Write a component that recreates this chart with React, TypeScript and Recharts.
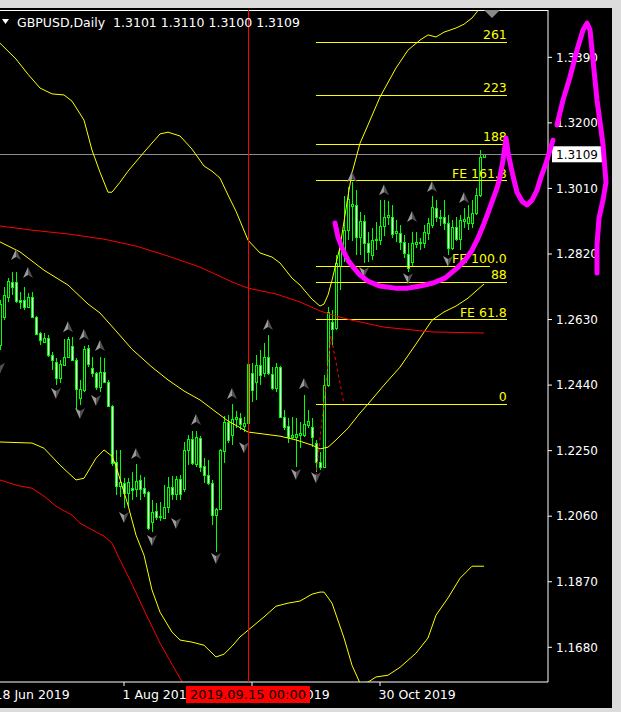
import React from 'react';
import { Bar, ComposedChart, Line, ReferenceLine, Scatter, XAxis, YAxis } from 'recharts';

// daily candles, one per bar index (0 = 19 Jun 2019)
const opens = [
  1.2556, 1.2637, 1.2695, 1.2738, 1.2738, 1.2686, 1.2686, 1.2666, 1.2695, 1.2637,
  1.2590, 1.2564, 1.2576, 1.2528, 1.2507, 1.2461, 1.2498, 1.2522, 1.2553, 1.2513,
  1.2403, 1.2426, 1.2548, 1.2490, 1.2475, 1.2434, 1.2478, 1.2449, 1.2379, 1.2217,
  1.2147, 1.2156, 1.2127, 1.2142, 1.2139, 1.2165, 1.2142, 1.2130, 1.2043, 1.2075,
  1.2058, 1.2055, 1.2086, 1.2144, 1.2124, 1.2168, 1.2139, 1.2252, 1.2284, 1.2211,
  1.2286, 1.2205, 1.2179, 1.2156, 1.2063, 1.2081, 1.2249, 1.2333, 1.2295, 1.2341,
  1.2344, 1.2321, 1.2330, 1.2475, 1.2449, 1.2498, 1.2475, 1.2522, 1.2472, 1.2431,
  1.2493, 1.2347, 1.2321, 1.2289, 1.2289, 1.2295, 1.2295, 1.2324, 1.2318, 1.2272,
  1.2217, 1.2202, 1.2440, 1.2623, 1.2605, 1.2785, 1.2831, 1.2889, 1.2959, 1.2962,
  1.2869, 1.2915, 1.2852, 1.2817, 1.2860, 1.2860, 1.2901, 1.2927, 1.2927, 1.2881,
  1.2881, 1.2854, 1.2820, 1.2797, 1.2849, 1.2852, 1.2852, 1.2881, 1.2904, 1.2953,
  1.2927, 1.2927, 1.2910, 1.2837, 1.2898, 1.2863, 1.2915, 1.2910, 1.2910, 1.2939,
  1.2991, 1.3101,
];
const highs = [
  1.2686, 1.2724, 1.2750, 1.2767, 1.2767, 1.2709, 1.2724, 1.2706, 1.2709, 1.2640,
  1.2593, 1.2590, 1.2585, 1.2536, 1.2519, 1.2513, 1.2573, 1.2579, 1.2579, 1.2519,
  1.2455, 1.2553, 1.2556, 1.2522, 1.2478, 1.2522, 1.2519, 1.2455, 1.2382, 1.2252,
  1.2252, 1.2171, 1.2171, 1.2188, 1.2211, 1.2179, 1.2173, 1.2133, 1.2107, 1.2098,
  1.2101, 1.2150, 1.2173, 1.2176, 1.2176, 1.2179, 1.2275, 1.2295, 1.2307, 1.2307,
  1.2292, 1.2228, 1.2223, 1.2165, 1.2084, 1.2255, 1.2350, 1.2353, 1.2385, 1.2365,
  1.2359, 1.2347, 1.2507, 1.2504, 1.2528, 1.2542, 1.2562, 1.2585, 1.2493, 1.2504,
  1.2496, 1.2368, 1.2344, 1.2347, 1.2344, 1.2333, 1.2411, 1.2368, 1.2344, 1.2281,
  1.2246, 1.2469, 1.2666, 1.2657, 1.2817, 1.2866, 1.2988, 1.3014, 1.3030, 1.3005,
  1.2941, 1.2933, 1.2883, 1.2895, 1.2912, 1.2976, 1.2976, 1.2973, 1.2962, 1.2918,
  1.2904, 1.2875, 1.2852, 1.2883, 1.2883, 1.2866, 1.2904, 1.2924, 1.2988, 1.2976,
  1.2947, 1.2976, 1.2933, 1.2918, 1.2927, 1.2933, 1.2953, 1.2962, 1.2976, 1.3011,
  1.3121, 1.3110,
];
const lows = [
  1.2542, 1.2628, 1.2680, 1.2700, 1.2677, 1.2660, 1.2657, 1.2663, 1.2634, 1.2585,
  1.2556, 1.2561, 1.2522, 1.2484, 1.2440, 1.2446, 1.2495, 1.2519, 1.2510, 1.2368,
  1.2383, 1.2420, 1.2493, 1.2464, 1.2426, 1.2420, 1.2446, 1.2376, 1.2205, 1.2121,
  1.2115, 1.2084, 1.2090, 1.2107, 1.2115, 1.2107, 1.2115, 1.2020, 1.2014, 1.2049,
  1.2046, 1.2052, 1.2069, 1.2107, 1.2107, 1.2107, 1.2130, 1.2208, 1.2208, 1.2202,
  1.2188, 1.2156, 1.2150, 1.2034, 1.1956, 1.2078, 1.2214, 1.2272, 1.2266, 1.2315,
  1.2310, 1.2304, 1.2324, 1.2391, 1.2397, 1.2440, 1.2464, 1.2469, 1.2426, 1.2420,
  1.2344, 1.2310, 1.2272, 1.2284, 1.2202, 1.2257, 1.2289, 1.2315, 1.2260, 1.2188,
  1.2194, 1.2199, 1.2434, 1.2556, 1.2599, 1.2715, 1.2797, 1.2860, 1.2860, 1.2817,
  1.2817, 1.2794, 1.2797, 1.2802, 1.2831, 1.2846, 1.2872, 1.2904, 1.2866, 1.2854,
  1.2831, 1.2808, 1.2768, 1.2785, 1.2837, 1.2831, 1.2837, 1.2860, 1.2895, 1.2912,
  1.2901, 1.2889, 1.2817, 1.2831, 1.2857, 1.2831, 1.2895, 1.2889, 1.2895, 1.2933,
  1.2985, 1.3100,
];
const closes = [
  1.2674, 1.2700, 1.2741, 1.2724, 1.2683, 1.2680, 1.2666, 1.2695, 1.2637, 1.2587,
  1.2570, 1.2576, 1.2528, 1.2513, 1.2461, 1.2501, 1.2522, 1.2573, 1.2513, 1.2429,
  1.2429, 1.2545, 1.2501, 1.2475, 1.2434, 1.2478, 1.2449, 1.2379, 1.2214, 1.2147,
  1.2159, 1.2127, 1.2159, 1.2136, 1.2162, 1.2139, 1.2127, 1.2026, 1.2072, 1.2058,
  1.2061, 1.2086, 1.2144, 1.2124, 1.2168, 1.2124, 1.2252, 1.2284, 1.2214, 1.2289,
  1.2202, 1.2179, 1.2156, 1.2063, 1.2081, 1.2252, 1.2333, 1.2281, 1.2341, 1.2347,
  1.2327, 1.2330, 1.2501, 1.2426, 1.2498, 1.2469, 1.2522, 1.2475, 1.2431, 1.2493,
  1.2347, 1.2318, 1.2289, 1.2295, 1.2298, 1.2301, 1.2327, 1.2336, 1.2289, 1.2217,
  1.2202, 1.2440, 1.2652, 1.2602, 1.2794, 1.2837, 1.2889, 1.2979, 1.2965, 1.2869,
  1.2915, 1.2852, 1.2826, 1.2860, 1.2863, 1.2901, 1.2927, 1.2933, 1.2878, 1.2886,
  1.2854, 1.2823, 1.2779, 1.2852, 1.2854, 1.2854, 1.2883, 1.2910, 1.2956, 1.2927,
  1.2924, 1.2910, 1.2837, 1.2898, 1.2863, 1.2918, 1.2921, 1.2927, 1.2939, 1.2991,
  1.3101, 1.3109,
];

// indicator lines: [bar index, price]
const upperBand: [number, number][] = [
  [0, 1.3431], [4, 1.3385], [7, 1.3341], [10, 1.3301], [13, 1.3284], [16, 1.3281], [18, 1.3263],
  [21, 1.3208], [23, 1.3121], [25, 1.3057], [27, 1.2999], [28, 1.2999], [30, 1.3028], [32, 1.306],
  [36, 1.3115], [40, 1.3168], [42, 1.3173], [45, 1.3162], [48, 1.3124], [51, 1.3075], [53, 1.306],
  [55, 1.304], [57, 1.2991], [59, 1.2944], [62, 1.286], [65, 1.2823], [68, 1.2811], [70, 1.2794],
  [73, 1.275], [75, 1.273], [78, 1.2689], [80, 1.2669], [81, 1.2675], [82, 1.2701], [83, 1.2744],
  [85, 1.284], [87, 1.2988], [88, 1.3055], [90, 1.3141], [92, 1.3194], [95, 1.3275], [99, 1.3359],
  [102, 1.3411], [105, 1.344], [107, 1.3455], [109, 1.3449], [111, 1.3463], [114, 1.3475],
  [116, 1.3486], [118, 1.3504], [120, 1.3533], [121, 1.355],
];
const middleBand: [number, number][] = [
  [0, 1.2855], [5, 1.2826], [11, 1.2773], [17, 1.273], [22, 1.2675], [25, 1.2649], [29, 1.2597],
  [33, 1.2544], [38, 1.2492], [42, 1.2455], [46, 1.2423], [50, 1.2397], [54, 1.2362], [57, 1.2336],
  [62, 1.2304], [66, 1.2298], [70, 1.2292], [74, 1.2281], [78, 1.2266], [80, 1.2255], [82, 1.226],
  [84, 1.2281], [87, 1.2315], [90, 1.2359], [92, 1.2385], [96, 1.244], [100, 1.2492], [104, 1.2559],
  [108, 1.2628], [111, 1.2652], [114, 1.2669], [117, 1.2692], [121, 1.2733],
];
const lowerBand: [number, number][] = [
  [0, 1.2275], [8, 1.2272], [11, 1.2257], [15, 1.2208], [19, 1.2165], [21, 1.217], [24, 1.2228],
  [26, 1.2252], [28, 1.2234], [29, 1.2205], [32, 1.2092], [34, 1.2005], [36, 1.1947], [38, 1.1846],
  [40, 1.1782], [43, 1.1724], [45, 1.1701], [48, 1.1695], [51, 1.1686], [54, 1.1652], [56, 1.166],
  [58, 1.1683], [60, 1.171], [63, 1.1739], [66, 1.1768], [69, 1.1799], [72, 1.1808], [75, 1.1814],
  [78, 1.1834], [80, 1.184], [81, 1.184], [83, 1.1808], [86, 1.1707], [88, 1.1628], [90, 1.1576],
  [92, 1.1579], [94, 1.1594], [97, 1.1599], [100, 1.1622], [104, 1.1663], [107, 1.1707],
  [109, 1.1773], [112, 1.1823], [115, 1.188], [118, 1.1915], [121, 1.1915],
];
const redMa: [number, number][] = [
  [0, 1.2901], [8, 1.2889], [17, 1.2878], [26, 1.2863], [34, 1.2843], [42, 1.2814], [50, 1.2782],
  [58, 1.2739], [62, 1.2721], [69, 1.2704], [75, 1.2681], [80, 1.2655], [84, 1.264], [88, 1.2628],
  [96, 1.2608], [108, 1.2594], [121, 1.2591],
];
const redLower: [number, number][] = [
  [0, 1.2165], [4, 1.215], [8, 1.2141], [11, 1.2118], [14, 1.2089], [18, 1.2063], [20, 1.204],
  [24, 1.2014], [26, 1.2002], [28, 1.1982], [30, 1.1933], [33, 1.1863], [36, 1.1788], [40, 1.1692],
  [43, 1.1631], [46, 1.157], [47, 1.1544],
];
const zigzag = [
  { i: 79, p: 1.2176 },
  { i: 82.75, p: 1.2582 },
  { i: 86, p: 1.2385 },
];

const fractalsUp: [number, number][] = [
  [4, 1.2817], [7, 1.2765], [17, 1.2608], [21, 1.2585], [25, 1.2553], [34, 1.224], [49, 1.2339],
  [58, 1.2414], [67, 1.2614], [76, 1.2443], [88, 1.3043], [96, 1.3005], [103, 1.2927],
  [108, 1.3014], [116, 1.2982],
];
const fractalsDown: [number, number][] = [
  [0, 1.249], [14, 1.2417], [20, 1.2359], [24, 1.2397], [31, 1.2058], [38, 1.1991], [44, 1.204],
  [54, 1.1939], [61, 1.226], [74, 1.2182], [79, 1.2173], [91, 1.2768], [102, 1.275], [112, 1.28],
];

// fibonacci expansion object
const fibNames = ['261', '223', '188', 'FE 161.8', 'FE 100.0', '88', 'FE 61.8', '0'];
const fibPrices = [1.3433, 1.328, 1.3138, 1.3033, 1.2784, 1.2738, 1.263, 1.2384];
const fibEnds = [126.7, 126.7, 126.7, 126.7, 122.5, 126.7, 126.7, 126.7];
const fibStart = 79;
const fibLabelEnd = 126.7;

// hand drawn magenta marks
const scribbleCup: [number, number][] = [
  [83.75, 1.291], [84.5, 1.2869], [85.75, 1.2831], [87, 1.2802], [88.5, 1.2779], [90, 1.2759],
  [92, 1.2741], [95, 1.2727], [98.75, 1.2721], [102, 1.2721], [105, 1.2727], [108.25, 1.2736],
  [111.25, 1.275], [114.25, 1.2779], [116.25, 1.2802], [118, 1.2831], [119.5, 1.2866],
  [120.75, 1.2901], [122, 1.2939], [123.25, 1.2979], [124.25, 1.3011], [125, 1.3043],
  [125.75, 1.3092], [126.25, 1.3133], [126.5, 1.3156], [127, 1.3115], [127.75, 1.3072],
  [128.5, 1.3034], [129.25, 1.2999], [130.5, 1.2973], [131.75, 1.2962], [133, 1.2976],
  [134.25, 1.3005], [135.25, 1.3043], [136.5, 1.3083], [137.5, 1.3121], [138.25, 1.315],
];
const scribbleSpike: [number, number][] = [
  [139.25, 1.3194], [140.75, 1.3266], [142.5, 1.3333], [144.25, 1.3411], [145.75, 1.3469],
  [146.75, 1.3489], [147.5, 1.3469], [148, 1.3411], [148.5, 1.3353], [149.25, 1.3266],
  [150, 1.3202], [150.75, 1.3136], [151.25, 1.3063], [151.5, 1.3028], [150.75, 1.2976],
  [149.75, 1.2924], [149.25, 1.2846], [149.25, 1.2765],
];

const priceTicks = [1.168, 1.187, 1.206, 1.225, 1.244, 1.263, 1.282, 1.301, 1.32, 1.339];
const dateTicks = [-1, 31, 63, 95];
const dateLabels = ['18 Jun 2019', '1 Aug 2019', '16 Sep 2019', '30 Oct 2019'];

const symbol = 'GBPUSD';
const period = 'Daily';
const markerIndex = 62;
const markerTime = '2019.09.15 00:00';

const Y_MIN = 1.15794;
const Y_MAX = 1.35272;
const GREEN = '#00ff00';
const YELLOW = '#ffff00';
const RED = '#ff0000';
const FONT = 'DejaVu Sans';

const rows: any[] = opens.map((o, i) => ({ i, o, h: highs[i], l: lows[i], c: closes[i] }));
const put = (key: string, pts: [number, number][]) => pts.forEach(([i, v]) => (rows[i][key] = v));
put('ub', upperBand);
put('mb', middleBand);
put('lb', lowerBand);
put('rm', redMa);
put('rl', redLower);

const toPoints = (pts: [number, number][]) => pts.map(([i, p]) => ({ i, p }));
const last = rows[rows.length - 1];

const Candle = (props: any) => {
  const { x, y, width, height, payload } = props;
  if (!payload || height == null) return null;
  const { o, h, l, c } = payload;
  const top = Math.min(y, y + height);
  const span = Math.abs(height);
  const at = (v: number) => top + ((h - v) / (h - l)) * span;
  const cx = Math.round(x + width / 2);
  const bTop = Math.round(at(Math.max(o, c)));
  const bBot = Math.round(at(Math.min(o, c)));
  return (
    <g shapeRendering="crispEdges">
      <rect x={cx} y={Math.round(top)} width={1} height={Math.max(1, Math.round(span))} fill={GREEN} />
      <rect x={cx - 1} y={bTop} width={3} height={bBot - bTop + 1} fill={GREEN} />
      {bBot - bTop > 1 && (
        <rect x={cx} y={bTop + 1} width={1} height={bBot - bTop - 1} fill={c < o ? '#ffffff' : '#000000'} />
      )}
    </g>
  );
};

const ArrowUp = ({ cx, cy }: any) => (
  <g>
    <polygon points={`${cx},${cy - 6} ${cx - 5},${cy + 5} ${cx},${cy + 2}`} fill="#9a9a9a" />
    <polygon points={`${cx},${cy - 6} ${cx},${cy + 2} ${cx + 5},${cy + 5}`} fill="#505050" />
  </g>
);
const ArrowDown = ({ cx, cy }: any) => (
  <g>
    <polygon points={`${cx},${cy + 6} ${cx - 5},${cy - 5} ${cx},${cy - 2}`} fill="#9a9a9a" />
    <polygon points={`${cx},${cy + 6} ${cx},${cy - 2} ${cx + 5},${cy - 5}`} fill="#505050" />
  </g>
);

const DateTick = ({ x, y, payload }: any) => (
  <text x={x - 1.5} y={y + 11} fill="#ffffff" fontSize={12.5} fontFamily={FONT}>
    {dateLabels[dateTicks.indexOf(payload.value)]}
  </text>
);

const PriceTag = ({ viewBox }: any) => {
  const x = viewBox.x + viewBox.width;
  const y = viewBox.y;
  return (
    <g>
      <rect x={x + 4} y={y - 8} width={50} height={16} fill="#ffffff" />
      <text x={x + 8} y={y + 4.5} fill="#000000" fontSize={12} fontFamily={FONT}>
        {last.c.toFixed(4)}
      </text>
    </g>
  );
};

const TimeTag = ({ viewBox }: any) => {
  const x = viewBox.x;
  const y = viewBox.y + viewBox.height;
  return (
    <g>
      <rect x={x - 62} y={y + 4} width={124} height={17} fill={RED} />
      <text x={x} y={y + 17} textAnchor="middle" fill="#000000" fontSize={13} fontFamily={FONT}>
        {markerTime}
      </text>
    </g>
  );
};

const fibLabel = (name: string) => ({ viewBox }: any) => (
  <text x={viewBox.x + viewBox.width} y={viewBox.y - 3} textAnchor="end" fill={YELLOW} fontSize={12.5} fontFamily={FONT}>
    {name}
  </text>
);

export default function App() {
  return (
    <div style={{ position: 'absolute', left: 0, top: 0, width: 621, height: 712, background: '#dcdcdc', overflow: 'hidden' }}>
      <div style={{ position: 'absolute', left: 0, top: 8, width: 612, height: 700, background: '#000' }} />
      <div style={{ position: 'absolute', left: 0, top: 0 }}>
        <ComposedChart width={621} height={712} data={rows} margin={{ top: 10, right: 0, bottom: 0, left: 0 }}>
          <XAxis
            type="number"
            dataKey="i"
            domain={[0, 137]}
            allowDataOverflow
            ticks={dateTicks}
            interval={0}
            height={30}
            stroke="#ffffff"
            tickSize={4}
            tickMargin={2}
            tick={DateTick}
          />
          <YAxis
            orientation="right"
            width={73}
            domain={[Y_MIN, Y_MAX]}
            allowDataOverflow
            ticks={priceTicks}
            interval={0}
            stroke="#ffffff"
            tickSize={4}
            tickMargin={4}
            tick={{ fill: '#ffffff', fontSize: 12, fontFamily: FONT }}
            tickFormatter={(v: number) => v.toFixed(4)}
          />
          <ReferenceLine y={Y_MAX} stroke="#ffffff" ifOverflow="visible" shapeRendering="crispEdges" />
          <ReferenceLine y={last.c} stroke="#8c8c8c" shapeRendering="crispEdges" label={PriceTag} />
          {fibPrices.map((p, k) => (
            <ReferenceLine
              key={`f${k}`}
              segment={[{ x: fibStart, y: p }, { x: fibEnds[k], y: p }]}
              stroke={YELLOW}
              shapeRendering="crispEdges"
            />
          ))}
          {fibPrices.map((p, k) => (
            <ReferenceLine
              key={`fl${k}`}
              segment={[{ x: fibStart, y: p }, { x: fibLabelEnd, y: p }]}
              stroke="none"
              label={fibLabel(fibNames[k])}
            />
          ))}
          <Line data={zigzag} dataKey="p" stroke={RED} strokeDasharray="3 3" dot={false} isAnimationActive={false} />
          <Bar dataKey={(d: any) => [d.l, d.h]} barSize={3} shape={Candle} isAnimationActive={false} />
          <Line dataKey="ub" stroke={YELLOW} dot={false} connectNulls type="linear" isAnimationActive={false} />
          <Line dataKey="mb" stroke={YELLOW} dot={false} connectNulls type="linear" isAnimationActive={false} />
          <Line dataKey="lb" stroke={YELLOW} dot={false} connectNulls type="linear" isAnimationActive={false} />
          <Line dataKey="rm" stroke={RED} dot={false} connectNulls type="linear" isAnimationActive={false} />
          <Line dataKey="rl" stroke={RED} dot={false} connectNulls type="linear" isAnimationActive={false} />
          <Scatter data={toPoints(fractalsUp)} dataKey="p" shape={ArrowUp} isAnimationActive={false} />
          <Scatter data={toPoints(fractalsDown)} dataKey="p" shape={ArrowDown} isAnimationActive={false} />
        </ComposedChart>
      </div>
      <div style={{ position: 'absolute', left: 0, top: 0 }}>
        <ComposedChart width={621} height={712} margin={{ top: 10, right: 0, bottom: 30, left: 0 }}>
          <XAxis type="number" dataKey="i" domain={[0, 155.25]} allowDataOverflow hide />
          <YAxis domain={[Y_MIN, Y_MAX]} allowDataOverflow hide />
          <ReferenceLine x={markerIndex} stroke={RED} shapeRendering="crispEdges" label={TimeTag} />
          <Line data={toPoints(scribbleCup)} dataKey="p" stroke="#ff00ff" strokeWidth={5} strokeLinecap="round" strokeLinejoin="round" dot={false} type="linear" isAnimationActive={false} />
          <Line data={toPoints(scribbleSpike)} dataKey="p" stroke="#ff00ff" strokeWidth={5} strokeLinecap="round" strokeLinejoin="round" dot={false} type="linear" isAnimationActive={false} />
        </ComposedChart>
      </div>
      <svg width={621} height={712} style={{ position: 'absolute', left: 0, top: 0, pointerEvents: 'none' }}>
        <polygon points="2,19 9,19 5.5,24" fill="#ffffff" />
        <polygon points="484,10 500,10 492,18" fill="#8a8a8a" />
        <text x={17} y={27} fill="#ffffff" fontSize={12.5} fontFamily={FONT} style={{ whiteSpace: 'pre' }}>
          {`${symbol},${period}  ${last.o.toFixed(4)} ${last.h.toFixed(4)} ${last.l.toFixed(4)} ${last.c.toFixed(4)}`}
        </text>
      </svg>
    </div>
  );
}
